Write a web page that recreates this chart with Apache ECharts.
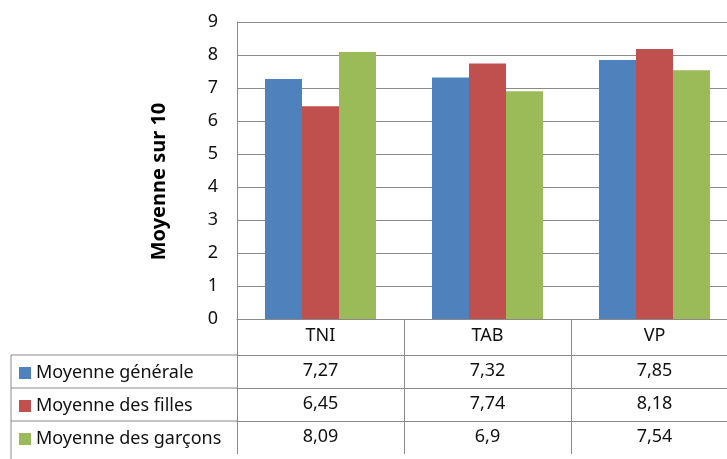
<!DOCTYPE html>
<html>
<head>
<meta charset="utf-8">
<script src="https://cdn.jsdelivr.net/npm/echarts@6/dist/echarts.min.js"></script>
<style>
  html, body { margin: 0; padding: 0; background: #fff; }
  #chart { width: 727px; height: 459px; }
</style>
</head>
<body>
<div id="chart"></div>
<script>
// données
const categories = ['TNI', 'TAB', 'VP']
const moyenneGenerale = [7.27, 7.32, 7.85]
const moyenneFilles = [6.45, 7.74, 8.18]
const moyenneGarcons = [8.09, 6.9, 7.54]
const seriesNames = ['Moyenne générale', 'Moyenne des filles', 'Moyenne des garçons']
const yTicks = [0, 1, 2, 3, 4, 5, 6, 7, 8, 9]

const colors = ['#4F81BD', '#C0504D', '#9BBB59']
const lineColor = '#8a8a8a'
const font = 'Noto Sans'
const fs = 18

// format français : virgule décimale
const fmt = (v) => String(v).replace('.', ',')

const chart = echarts.init(document.getElementById('chart'))

// une ligne du tableau de données = un axe x décalé vers le bas
const tableAxis = (values, offset) => ({
  type: 'category',
  data: categories,
  position: 'bottom',
  offset: offset,
  axisLine: { show: true, lineStyle: { color: lineColor, width: 1 } },
  axisTick: { show: true, inside: false, length: 33, lineStyle: { color: lineColor } },
  axisLabel: {
    margin: 7,
    color: '#111',
    fontFamily: font,
    fontSize: fs,
    formatter: (val, idx) => fmt(values[idx])
  },
  splitLine: { show: false }
})

const option = {
  backgroundColor: '#fff',
  animation: false,
  color: colors,
  grid: { left: 237, top: 22, width: 501, height: 297, outerBoundsMode: 'none' },
  legend: {
    data: seriesNames,
    orient: 'vertical',
    left: 19,
    top: 364,
    padding: 0,
    icon: 'rect',
    itemWidth: 12,
    itemHeight: 12,
    itemGap: 15,
    textStyle: { color: '#111', fontFamily: font, fontSize: fs, lineHeight: 18 }
  },
  xAxis: [
    {
      type: 'category',
      data: categories,
      position: 'bottom',
      axisLine: { show: true, lineStyle: { color: lineColor, width: 1 } },
      axisTick: { show: true, inside: false, length: 36, lineStyle: { color: lineColor } },
      axisLabel: { margin: 8, color: '#111', fontFamily: font, fontSize: fs }
    },
    tableAxis(moyenneGenerale, 36),
    tableAxis(moyenneFilles, 69),
    tableAxis(moyenneGarcons, 102)
  ],
  yAxis: {
    type: 'value',
    min: yTicks[0],
    max: yTicks[yTicks.length - 1],
    interval: 1,
    name: 'Moyenne sur 10',
    nameLocation: 'middle',
    nameRotate: 90,
    nameGap: 68,
    nameTextStyle: {
      color: '#000', fontFamily: font, fontSize: 20, fontWeight: 'bold',
      padding: [0, 22, 0, 0]
    },
    axisLine: { show: true, lineStyle: { color: lineColor, width: 1 } },
    axisTick: { show: false },
    axisLabel: { margin: 19, color: '#111', fontFamily: font, fontSize: fs },
    splitLine: { show: true, lineStyle: { color: lineColor, width: 1 } }
  },
  series: [
    { name: seriesNames[0], type: 'bar', data: moyenneGenerale, barWidth: 37, barGap: '0%' },
    { name: seriesNames[1], type: 'bar', data: moyenneFilles, barWidth: 37, barGap: '0%' },
    { name: seriesNames[2], type: 'bar', data: moyenneGarcons, barWidth: 37, barGap: '0%' }
  ]
}

chart.setOption(option)

// colonne de gauche du tableau (bordures de la légende)
const gx = chart.convertToPixel({ xAxisIndex: 0 }, categories[0]) - 501 / 6
const g0 = chart.convertToPixel({ yAxisIndex: 0 }, 0)
const rowTops = [36, 69, 102].map((o) => g0 + o)
const lines = rowTops.map((y) => ({
  type: 'line',
  shape: { x1: 11, y1: y, x2: gx, y2: y },
  style: { stroke: lineColor, lineWidth: 1 },
  silent: true
}))
lines.push({
  type: 'line',
  shape: { x1: 11, y1: rowTops[0], x2: 11, y2: 459 },
  style: { stroke: lineColor, lineWidth: 1 },
  silent: true
})
chart.setOption({ graphic: lines })
</script>
</body>
</html>
